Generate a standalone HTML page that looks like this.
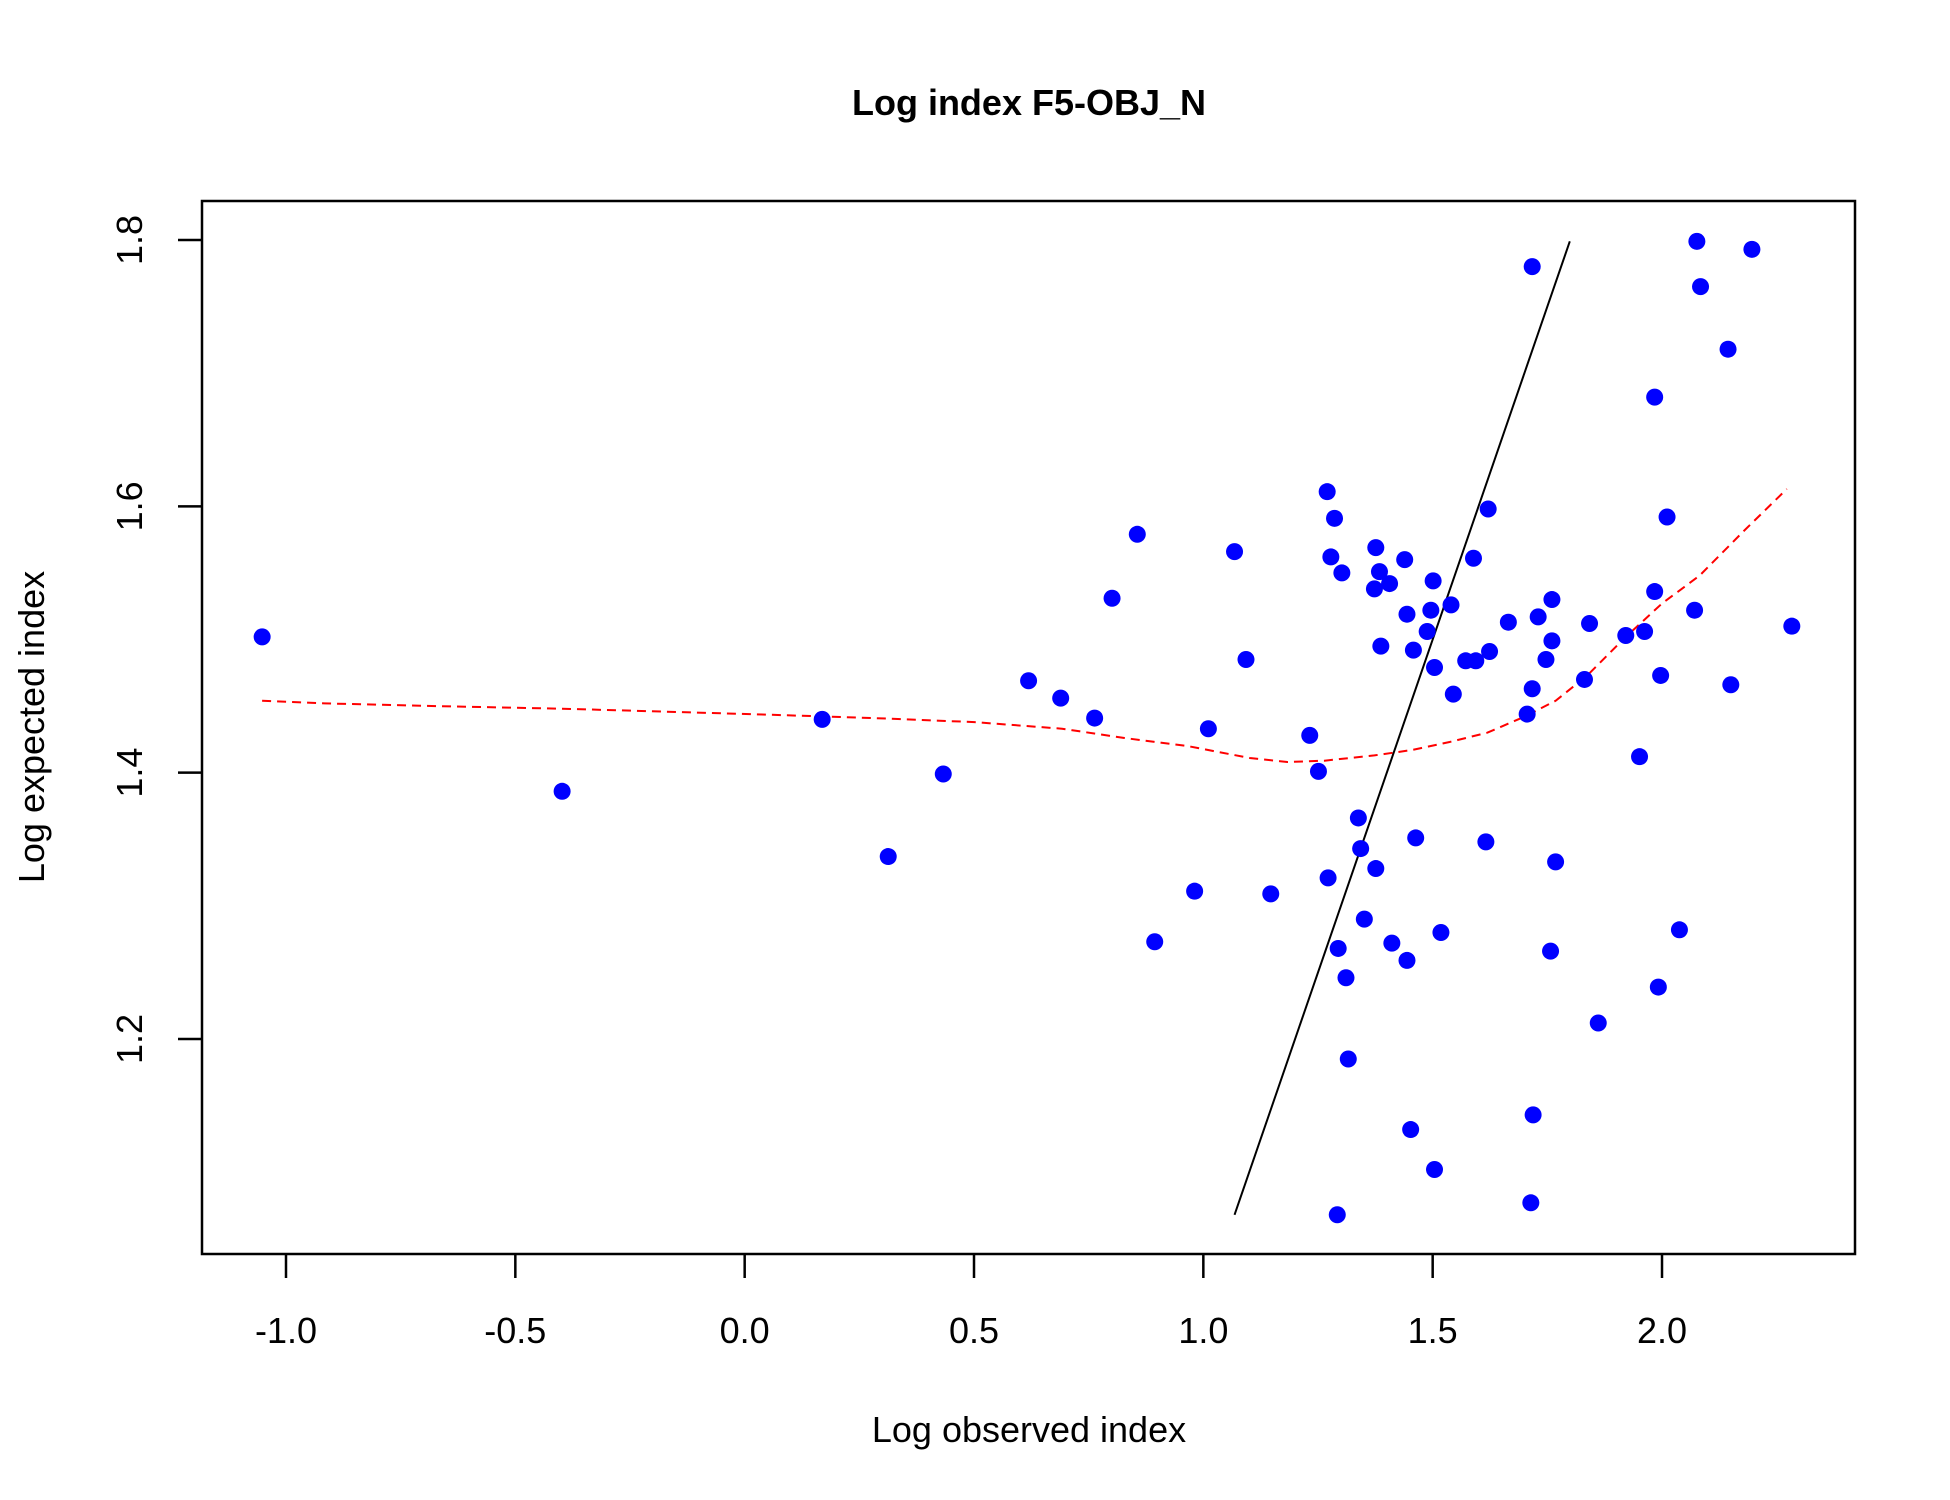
<!DOCTYPE html>
<html><head><meta charset="utf-8"><style>
html,body{margin:0;padding:0;background:#fff;}
svg{display:block;font-family:"Liberation Sans",Arial,sans-serif;}
</style></head><body>
<svg id="chart" width="1950" height="1500" viewBox="0 0 1950 1500" xmlns="http://www.w3.org/2000/svg">
<rect width="1950" height="1500" fill="#fff"/>
<text x="1029" y="115" text-anchor="middle" font-size="36" font-weight="bold">Log index F5-OBJ_N</text>
<text x="1029" y="1442" text-anchor="middle" font-size="36">Log observed index</text>
<text transform="translate(44,727) rotate(-90)" text-anchor="middle" font-size="36">Log expected index</text>
<g id="xaxis"></g>
<g id="yaxis"></g>
<g id="marks"></g>
<rect x="202" y="201" width="1653" height="1053" fill="none" stroke="#000" stroke-width="2.5"/>
</svg>
<script>
const obsX=[-1.052,-0.398,0.169,0.313,0.433,0.619,0.689,0.763,0.801,0.856,0.894,0.981,1.011,1.068,1.093,1.147,1.232,1.251,1.270,1.272,1.278,1.286,1.294,1.292,1.302,1.311,1.316,1.338,1.343,1.351,1.373,1.376,1.376,1.384,1.387,1.406,1.411,1.439,1.444,1.444,1.452,1.458,1.463,1.488,1.496,1.501,1.504,1.504,1.518,1.540,1.545,1.572,1.589,1.594,1.616,1.621,1.624,1.665,1.706,1.714,1.717,1.717,1.719,1.730,1.747,1.757,1.760,1.760,1.768,1.831,1.842,1.861,1.921,1.951,1.962,1.984,1.984,1.992,1.997,2.011,2.038,2.071,2.076,2.084,2.144,2.150,2.196,2.283];
const expY=[1.502,1.386,1.440,1.337,1.399,1.469,1.456,1.441,1.531,1.579,1.273,1.311,1.433,1.566,1.485,1.309,1.428,1.401,1.611,1.321,1.562,1.591,1.268,1.068,1.550,1.246,1.185,1.366,1.343,1.290,1.538,1.569,1.328,1.551,1.495,1.542,1.272,1.560,1.519,1.259,1.132,1.492,1.351,1.506,1.522,1.544,1.479,1.102,1.280,1.526,1.459,1.484,1.561,1.484,1.348,1.598,1.491,1.513,1.444,1.077,1.463,1.780,1.143,1.517,1.485,1.266,1.499,1.530,1.333,1.470,1.512,1.212,1.503,1.412,1.506,1.536,1.682,1.239,1.473,1.592,1.282,1.522,1.799,1.765,1.718,1.466,1.793,1.510];
const smoothX=[-1.052,-0.916,-0.670,-0.398,0.011,0.283,0.501,0.692,0.828,0.965,1.101,1.183,1.264,1.373,1.455,1.537,1.619,1.700,1.768,1.837,1.918,2.0,2.082,2.177,2.272];
const smoothY=[1.454,1.452,1.450,1.448,1.444,1.441,1.438,1.433,1.426,1.420,1.411,1.408,1.409,1.413,1.417,1.423,1.430,1.442,1.454,1.473,1.501,1.527,1.548,1.581,1.613];
const refLine=[1.068,1.799];
const xTicks=[-1.0,-0.5,0.0,0.5,1.0,1.5,2.0];
const xTickLabels=["-1.0","-0.5","0.0","0.5","1.0","1.5","2.0"];
const yTicks=[1.2,1.4,1.6,1.8];
const yTickLabels=["1.2","1.4","1.6","1.8"];

const NS="http://www.w3.org/2000/svg";
function sx(v){return 286+(v+1)*458.67;}
function sy(v){return 240+(1.8-v)/0.6*799;}
function mk(tag,attrs,parent){const e=document.createElementNS(NS,tag);for(const k in attrs)e.setAttribute(k,attrs[k]);parent.appendChild(e);return e;}
const xa=document.getElementById('xaxis'),ya=document.getElementById('yaxis'),mg=document.getElementById('marks');
mk('line',{x1:sx(xTicks[0]),x2:sx(xTicks[xTicks.length-1]),y1:1254,y2:1254,stroke:'#000','stroke-width':2},xa);
xTicks.forEach((t,i)=>{
  const l=mk('line',{x1:sx(t),x2:sx(t),y1:1254,y2:1278,stroke:'#000','stroke-width':2.5},xa);
  
  
  const tx=mk('text',{x:sx(t),y:1343,'text-anchor':'middle','font-size':36},xa);
  tx.textContent=xTickLabels[i];
  
  
});
yTicks.forEach((t,i)=>{
  const l=mk('line',{x1:178,x2:202,y1:sy(t),y2:sy(t),stroke:'#000','stroke-width':2.5},ya);
  
  
  const tx=mk('text',{transform:`translate(142,${sy(t)}) rotate(-90)`,'text-anchor':'middle','font-size':36},ya);
  tx.textContent=yTickLabels[i];
  
  
});
const rl=mk('line',{x1:sx(refLine[0]),y1:sy(refLine[0]),x2:sx(refLine[1]),y2:sy(refLine[1]),stroke:'#000','stroke-width':2},mg);


const pts=smoothX.map((x,i)=>sx(x).toFixed(1)+','+sy(smoothY[i]).toFixed(1)).join(' ');
const sm=mk('polyline',{points:pts,fill:'none',stroke:'#ff0000','stroke-width':2,'stroke-dasharray':'9,6'},mg);


obsX.forEach((x,i)=>{
  const c=mk('circle',{cx:sx(x),cy:sy(expY[i]),r:8.5,fill:'#0000ff'},mg);
  
  
});
</script>
</body></html>
